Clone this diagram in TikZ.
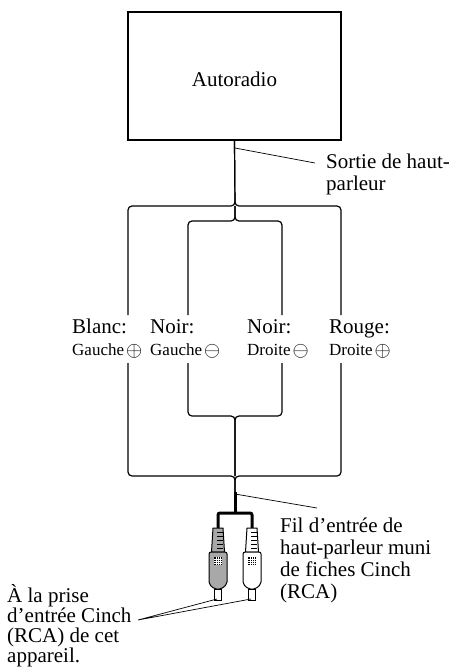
\documentclass[tikz,border=0pt]{standalone}
\usepackage{fontspec}
\setmainfont{Liberation Serif}
\usepackage{graphicx}
\usepackage{tikz}

\definecolor{plugGrey}{gray}{0.66}
\newcommand{\bigtxt}{\fontsize{21}{22}\selectfont}
\newcommand{\smalltxt}{\fontsize{17}{22}\selectfont}
\newcommand{\pluscirc}{\hspace{2pt}\raisebox{-1pt}{\scalebox{1.2}{$\oplus$}}}
\newcommand{\minuscirc}{\hspace{2pt}\raisebox{-1pt}{\scalebox{1.2}{$\ominus$}}}

\tikzset{
  wire/.style={line width=1.2pt, rounded corners=4pt},
  thickwire/.style={line width=3pt, rounded corners=2pt},
  leader/.style={line width=0.7pt},
  lbl/.style={align=left, inner sep=0pt, anchor=base west, font=\bigtxt},
}

\begin{document}
\begin{tikzpicture}[x=1pt,y=-1pt]
\useasboundingbox (0,0) rectangle (449,670);

\node[draw, line width=1.8pt, minimum width=213pt, minimum height=128pt,
  inner sep=0pt, text height=22pt, font=\bigtxt] (radio) at (234.5,76) {Autoradio};

% junctions on the cable
\coordinate (jtop) at (235,206);
\coordinate (jin) at (235,221);
\coordinate (jinb) at (235,416);
\coordinate (jout) at (235,476);
\coordinate (thick) at (235,492);
\coordinate (fork) at (235,513);

% wire ends at the labels
\coordinate (wl1) at (128,315);
\coordinate (wl2) at (188,315);
\coordinate (wr2) at (282,315);
\coordinate (wr1) at (341,315);
\coordinate (wl1b) at (128,363);
\coordinate (wl2b) at (188,363);
\coordinate (wr2b) at (282,363);
\coordinate (wr1b) at (341,363);

\draw[wire] (wl1) |- (jtop) -- (radio.south);
\draw[wire] (wr1) |- (jtop) -- (radio.south);
\draw[wire] (wl2) |- (jin) -- (jtop);
\draw[wire] (wr2) |- (jin) -- (jtop);

\draw[wire] (wl2b) |- (jinb) -- (jout);
\draw[wire] (wr2b) |- (jinb) -- (jout);
\draw[wire] (wl1b) |- (jout) -- (thick);
\draw[wire] (wr1b) |- (jout) -- (thick);

% labels (base = last line)
\node[lbl] (blanc) at (72,355) {Blanc:\\{\smalltxt Gauche\pluscirc}};
\node[lbl] (noirg) at (150,355) {Noir:\\{\smalltxt Gauche\minuscirc}};
\node[lbl] (noird) at (247,355) {Noir:\\{\smalltxt Droite\minuscirc}};
\node[lbl] (rouge) at (329,355) {Rouge:\\{\smalltxt Droite\pluscirc}};

% plugs
\coordinate (plugL) at (218,528);
\coordinate (plugR) at (252,528);
\draw[thickwire] (thick) -- (fork);
\draw[thickwire] (plugL) |- (fork) -| (plugR);

\foreach \px/\pfill/\pname in {218/plugGrey/L, 252/white/R} {
  \filldraw[fill=\pfill, line width=1pt] (\px-5,528) -- (\px+5,528) -- (\px+6.5,552) -- (\px-6.5,552) -- cycle;
  \foreach \ry in {532,536,...,548}
    \draw[line width=0.6pt] (\px-1,\ry) -- (\px+5,\ry);
  \filldraw[fill=\pfill, line width=1pt, rounded corners=2pt] (\px-9,552) -- (\px+9,552)
    -- (\px+9,584) -- (\px+3.5,589) -- (\px-3.5,589) -- (\px-9,584) -- cycle;
  \filldraw[fill=white, line width=1pt] (\px-3.5,589) rectangle (\px+3.5,600);
  \fill (\px-4,557) rectangle (\px+4,565);
  \foreach \g in {-2,0,2} {
    \draw[white, line width=0.5pt] (\px+\g,557) -- (\px+\g,565);
    \draw[white, line width=0.5pt] (\px-4,561+\g) -- (\px+4,561+\g);
  }
  \coordinate (pin\pname) at (\px-1,599);
}

% callouts
\node[lbl] (sortie) at (326,190) {Sortie de haut-\\parleur};
\coordinate (sortieTip) at (315,163);
\coordinate (sortieWire) at (235,148);
\draw[leader] (sortieWire) -- (sortieTip);

\node[lbl] (fil) at (280,598) {Fil d’entrée de\\haut-parleur muni\\de fiches Cinch\\(RCA)};
\coordinate (filTip) at (317,508);
\coordinate (filWire) at (235,494);
\draw[leader] (filWire) -- (filTip);

\node[lbl, font=\fontsize{21}{20}\selectfont] (prise) at (7,662) {À la prise\\d’entrée Cinch\\(RCA) de cet\\appareil.};
\coordinate (priseTip) at (138,620);
\draw[leader] (pinL) -- (priseTip) -- (pinR);
\end{tikzpicture}
\end{document}
